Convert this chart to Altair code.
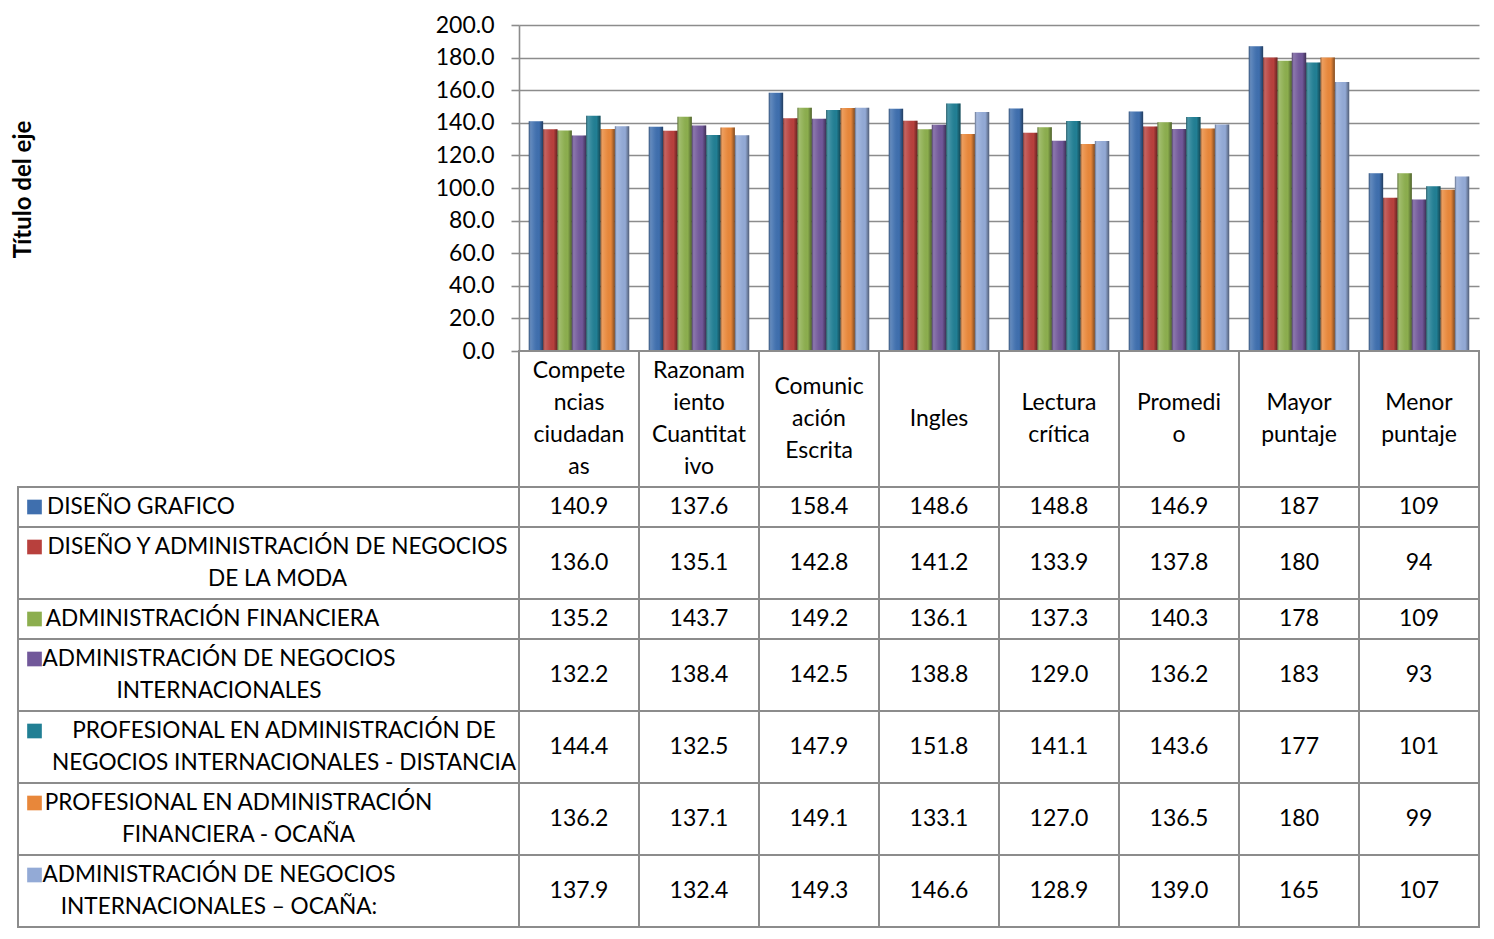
import altair as alt
import pandas as pd

# ---------------- data ----------------
categories = ["Competencias ciudadanas", "Razonamiento Cuantitativo", "Comunicación Escrita",
              "Ingles", "Lectura crítica", "Promedio", "Mayor puntaje", "Menor puntaje"]
category_lines = [["Compete", "ncias", "ciudadan", "as"],
                  ["Razonam", "iento", "Cuantitat", "ivo"],
                  ["Comunic", "ación", "Escrita"],
                  ["Ingles"],
                  ["Lectura", "crítica"],
                  ["Promedi", "o"],
                  ["Mayor", "puntaje"],
                  ["Menor", "puntaje"]]
category_decimals = [1, 1, 1, 1, 1, 1, 0, 0]

series_lines = [["DISEÑO GRAFICO"],
                ["DISEÑO Y ADMINISTRACIÓN DE NEGOCIOS", "DE LA MODA"],
                ["ADMINISTRACIÓN FINANCIERA"],
                ["ADMINISTRACIÓN DE NEGOCIOS", "INTERNACIONALES"],
                ["PROFESIONAL EN ADMINISTRACIÓN DE", "NEGOCIOS INTERNACIONALES - DISTANCIA"],
                ["PROFESIONAL EN ADMINISTRACIÓN", "FINANCIERA - OCAÑA"],
                ["ADMINISTRACIÓN DE NEGOCIOS", "INTERNACIONALES – OCAÑA:"]]

s_diseno_grafico = [140.9, 137.6, 158.4, 148.6, 148.8, 146.9, 187, 109]
s_diseno_moda = [136.0, 135.1, 142.8, 141.2, 133.9, 137.8, 180, 94]
s_adm_financiera = [135.2, 143.7, 149.2, 136.1, 137.3, 140.3, 178, 109]
s_adm_internacionales = [132.2, 138.4, 142.5, 138.8, 129.0, 136.2, 183, 93]
s_prof_distancia = [144.4, 132.5, 147.9, 151.8, 141.1, 143.6, 177, 101]
s_prof_fin_ocana = [136.2, 137.1, 149.1, 133.1, 127.0, 136.5, 180, 99]
s_adm_int_ocana = [137.9, 132.4, 149.3, 146.6, 128.9, 139.0, 165, 107]
series_values = [s_diseno_grafico, s_diseno_moda, s_adm_financiera, s_adm_internacionales,
                 s_prof_distancia, s_prof_fin_ocana, s_adm_int_ocana]

y_ticks = [0, 20, 40, 60, 80, 100, 120, 140, 160, 180, 200]

colors = ["#3F6FAE", "#B8403D", "#8CAE4E", "#71589A", "#217F94", "#E8873A", "#93AAD6"]

# ---------------- layout / style ----------------
FONT = "Lato"
FS = 23
NAME_FS = 22.6
NAME_W = 501
COL_W = 120
PLOT_W = COL_W * len(categories)
PLOT_H = 326
LINE_PX = 32
PAD = 0.25            # row padding, in line units
CHAR_W = 13.0         # approx px per character for centring name blocks
NAME_LEFT = 32
GREY = "#8c8c8c"

series_keys = [" ".join(l) for l in series_lines]

# ---------------- tables built from the arrays ----------------
bar_rows = []
for s, vals in zip(series_keys, series_values):
    for c, v in zip(categories, vals):
        bar_rows.append({"cat": c, "series": s, "value": v})
bar_df = pd.DataFrame(bar_rows)

header_units = max(len(l) for l in category_lines) + PAD
cell_rows = []
for c, lines in zip(categories, category_lines):
    cell_rows.append({"cat": c, "y0": 0.0, "y1": header_units, "label": "|".join(lines),
                      "ytext": header_units / 2 - (len(lines) - 1) / 2})
name_rows = []
y = header_units
for s, lines, vals in zip(series_keys, series_lines, series_values):
    h = len(lines) + PAD
    for c, v, d in zip(categories, vals, category_decimals):
        cell_rows.append({"cat": c, "y0": y, "y1": y + h, "label": f"{v:.{d}f}",
                          "ytext": y + h / 2})
    longest = max(len(t) for t in lines)
    name_rows.append({"series": s, "y0": y, "y1": y + h, "label": "|".join(lines),
                      "cx": NAME_LEFT + CHAR_W * longest / 2.0,
                      "ytext": y + PAD / 2 + 0.5})
    y += h
total_units = y
TABLE_H = int(round(total_units * LINE_PX))
cell_df = pd.DataFrame(cell_rows)
name_df = pd.DataFrame(name_rows)

yscale_tab = alt.Scale(domain=[0, total_units], reverse=True, nice=False, zero=False)
color_scale = alt.Scale(domain=series_keys, range=colors)

# ---------------- bar chart ----------------
base = alt.Chart(bar_df).encode(
    x=alt.X("cat:N", scale=alt.Scale(domain=categories, paddingInner=0.163, paddingOuter=0.0815),
            axis=None),
    xOffset=alt.XOffset("series:N", scale=alt.Scale(domain=series_keys, paddingInner=0, paddingOuter=0)),
    y=alt.Y("value:Q", scale=alt.Scale(domain=[0, 200], nice=False),
            axis=alt.Axis(values=y_ticks, format=".1f", grid=True, gridColor=GREY, gridWidth=1.6,
                          domainColor=GREY, domainWidth=1.6, tickColor=GREY, tickWidth=1.6, tickSize=8,
                          labelFont=FONT, labelFontSize=FS, labelColor="black", labelPadding=17,
                          title="Título del eje", titleFont=FONT, titleFontSize=24,
                          titleFontWeight="bold", titleColor="black", titleAngle=270,
                          titleX=-496, titleY=164, titleAlign="center", titleBaseline="middle")),
)
bars = base.mark_bar().encode(color=alt.Color("series:N", scale=color_scale, legend=None))
shine = base.mark_bar(color=alt.Gradient(
    gradient="linear", x1=0, y1=0, x2=1, y2=0,
    stops=[alt.GradientStop(offset=0, color="rgba(0,0,0,0.4)"),
           alt.GradientStop(offset=0.14, color="rgba(255,255,255,0.18)"),
           alt.GradientStop(offset=0.4, color="rgba(255,255,255,0.06)"),
           alt.GradientStop(offset=0.72, color="rgba(0,0,0,0.0)"),
           alt.GradientStop(offset=0.86, color="rgba(0,0,0,0.22)"),
           alt.GradientStop(offset=1, color="rgba(0,0,0,0.45)")]))
bar_chart = alt.layer(bars, shine).properties(width=PLOT_W, height=PLOT_H)

spacer = alt.Chart(pd.DataFrame({"v": [0]})).mark_point(opacity=0).encode(
    x=alt.value(0), y=alt.value(0)).properties(width=NAME_W, height=PLOT_H)

# ---------------- legend / name column ----------------
nb = alt.Chart(name_df)
name_cells = nb.mark_rect(fill="white", stroke=GREY, strokeWidth=2).encode(
    y=alt.Y("y0:Q", scale=yscale_tab, axis=None), y2="y1:Q")
name_keys = nb.mark_square(size=215, opacity=1).encode(
    x=alt.value(16.5),
    y=alt.Y("ytext:Q", scale=yscale_tab, axis=None),
    color=alt.Color("series:N", scale=color_scale, legend=None))
name_text = nb.transform_calculate(
    lines="split(datum.label, '|')"
).mark_text(font=FONT, fontSize=NAME_FS, align="center", baseline="middle", lineHeight=LINE_PX,
            color="black").encode(
    x=alt.X("cx:Q", scale=None),
    y=alt.Y("ytext:Q", scale=yscale_tab, axis=None),
    text="lines:N")
name_chart = alt.layer(name_cells, name_keys, name_text).properties(width=NAME_W, height=TABLE_H)

# ---------------- value table ----------------
cb = alt.Chart(cell_df)
xtab = alt.X("cat:N", scale=alt.Scale(domain=categories, paddingInner=0, paddingOuter=0), axis=None)
cells = cb.mark_rect(fill="white", stroke=GREY, strokeWidth=2).encode(
    x=xtab, y=alt.Y("y0:Q", scale=yscale_tab, axis=None), y2="y1:Q")
cell_text = cb.transform_calculate(
    lines="split(datum.label, '|')"
).mark_text(font=FONT, fontSize=FS, align="center", baseline="middle", lineHeight=LINE_PX,
            color="black").encode(
    x=xtab, y=alt.Y("ytext:Q", scale=yscale_tab, axis=None), text="lines:N")
table_chart = alt.layer(cells, cell_text).properties(width=PLOT_W, height=TABLE_H)

chart = alt.concat(spacer, bar_chart, name_chart, table_chart, columns=2,
                   spacing=0, bounds="flush", align="each").properties(
    padding={"left": 3, "top": 6, "right": 0, "bottom": 0},
    background="white",
).configure(font=FONT).configure_view(stroke="transparent", strokeWidth=0)

chart.save("out.html", embed_options={"renderer": "svg", "actions": False})
